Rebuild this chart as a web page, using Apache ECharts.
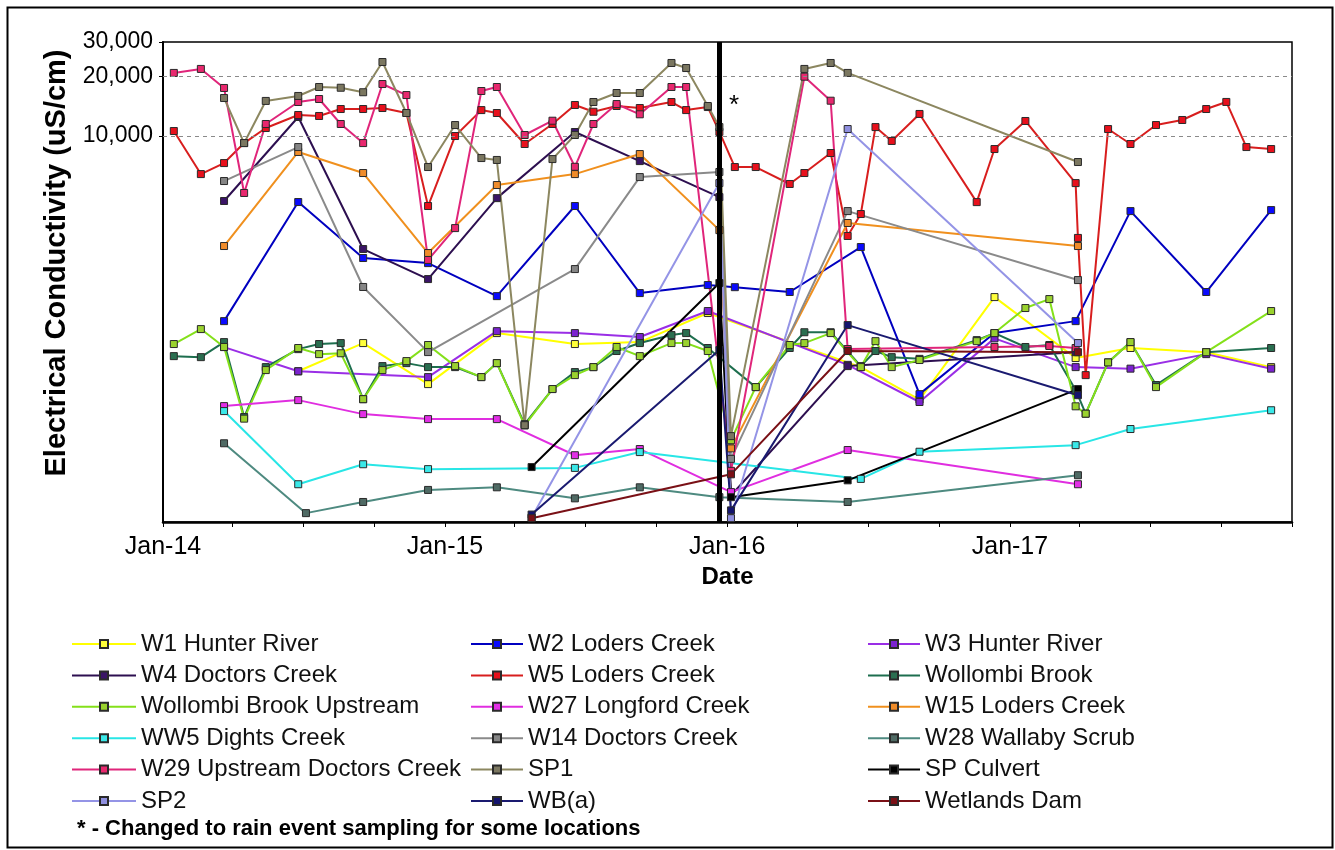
<!DOCTYPE html>
<html><head><meta charset="utf-8">
<script src="https://cdn.jsdelivr.net/npm/echarts@6/dist/echarts.min.js"></script>
<style>html,body{margin:0;padding:0;background:#fff}#c{width:1335px;height:850px}</style>
</head><body><div id="c"></div>
<script>
// ---------- DATA (date, EC uS/cm) ----------
const W1_HUNTER = [['2014-06-25',640],['2014-09-17',890],['2014-12-10',551],['2015-03-09',1000],['2015-06-18',880],['2015-09-10',900],['2015-12-07',1264],['2016-06-22',672],['2016-09-06',460],['2016-12-12',1523],['2017-03-27',747],['2017-06-06',840],['2017-09-12',800],['2017-12-05',672]];
const W2_LODERS = [['2014-03-21',1150],['2014-06-25',4624],['2014-09-17',2404],['2014-12-10',2265],['2015-03-09',1540],['2015-06-18',4414],['2015-09-10',1596],['2015-12-07',1753],['2016-01-11',1710],['2016-03-22',1616],['2016-06-22',2733],['2016-09-06',490],['2016-12-12',1000],['2017-03-27',1150],['2017-06-06',4160],['2017-09-12',1616],['2017-12-05',4210]];
const W3_HUNTER = [['2014-03-21',849],['2014-06-25',640],['2014-12-10',598],['2015-03-09',1023],['2015-06-18',1000],['2015-09-10',955],['2015-12-07',1294],['2016-06-05',690],['2016-09-06',447],['2016-12-12',940],['2017-03-27',672],['2017-06-06',660],['2017-09-12',782],['2017-12-05',660]];
const W4_DOCTORS = [['2014-03-21',4680],['2014-06-25',12490],['2014-09-17',2670],['2014-12-10',1880],['2015-03-09',4840],['2015-06-18',10480],['2015-09-10',7460],['2015-12-22',4900],['2016-01-06',150],['2016-06-05',680],['2017-03-27',800]];
const W5_LODERS = [['2014-01-15',10600],['2014-02-19',6410],['2014-03-21',7290],['2014-04-16',9210],['2014-05-14',10980],['2014-06-25',12785],['2014-07-22',12640],['2014-08-19',13710],['2014-09-17',13710],['2014-10-12',13870],['2014-11-12',13085],['2014-12-10',4414],['2015-01-14',10000],['2015-02-17',13540],['2015-03-09',13085],['2015-04-14',9110],['2015-05-20',11510],['2015-06-18',14370],['2015-07-12',13280],['2015-08-11',14200],['2015-09-10',13870],['2015-10-21',14880],['2015-11-09',13540],['2015-12-07',14030],['2015-12-22',10500],['2016-01-11',6960],['2016-02-07',6960],['2016-03-22',5710],['2016-04-10',6490],['2016-05-14',8200],['2016-06-05',3110],['2016-06-22',4020],['2016-07-11',11100],['2016-08-01',9440],['2016-09-06',12940],['2016-11-19',4620],['2016-12-12',8590],['2017-01-21',11920],['2017-03-27',5770],['2017-03-30',3040],['2017-04-09',612],['2017-05-08',10850],['2017-06-06',9110],['2017-07-09',11370],['2017-08-12',12060],['2017-09-12',13710],['2017-10-08',14890],['2017-11-03',8790],['2017-12-05',8590]];
const WOLLOMBI = [['2014-01-15',764],['2014-02-19',755],['2014-03-21',900],['2014-04-16',375],['2014-05-14',672],['2014-06-25',829],['2014-07-22',880],['2014-08-19',890],['2014-09-17',462],['2014-10-12',680],['2014-11-12',704],['2014-12-10',672],['2015-01-14',672],['2015-02-17',598],['2015-03-09',704],['2015-04-14',345],['2015-05-20',520],['2015-06-18',634],['2015-07-12',672],['2015-08-11',811],['2015-09-10',890],['2015-10-21',977],['2015-11-09',1000],['2015-12-07',840],['2016-02-07',532],['2016-03-22',840],['2016-04-10',1010],['2016-05-14',1010],['2016-06-22',680],['2016-07-11',811],['2016-08-01',755],['2016-09-06',740],['2016-11-19',921],['2016-12-12',1000],['2017-01-21',850],['2017-02-21',870],['2017-03-27',515],['2017-04-09',390],['2017-05-08',710],['2017-06-06',900],['2017-07-09',545],['2017-09-12',800],['2017-12-05',840]];
const WOLLOMBI_UP = [['2014-01-15',880],['2014-02-19',1048],['2014-03-21',850],['2014-04-16',368],['2014-05-14',649],['2014-06-25',840],['2014-07-22',782],['2014-08-19',790],['2014-09-17',462],['2014-10-12',649],['2014-11-12',721],['2014-12-10',870],['2015-01-14',680],['2015-02-17',598],['2015-03-09',704],['2015-04-14',340],['2015-05-20',520],['2015-06-18',612],['2015-07-12',672],['2015-08-11',850],['2015-09-10',764],['2015-10-21',890],['2015-11-09',890],['2015-12-07',811],['2016-01-06',286],['2016-02-07',532],['2016-03-22',870],['2016-04-10',890],['2016-05-14',1000],['2016-06-22',672],['2016-07-11',910],['2016-08-01',672],['2016-09-06',730],['2016-11-19',910],['2016-12-12',1000],['2017-01-21',1340],['2017-02-21',1488],['2017-03-27',425],['2017-04-09',390],['2017-05-08',710],['2017-06-06',900],['2017-07-09',532],['2017-09-12',800],['2017-12-05',1294]];
const W27_LONGFORD = [['2014-03-21',426],['2014-06-25',457],['2014-09-17',388],['2014-12-10',366],['2015-03-09',366],['2015-06-18',240],['2015-09-10',258],['2016-01-06',156],['2016-06-05',255],['2017-03-30',171]];
const W15_LODERS = [['2014-03-21',2766],['2014-06-25',8300],['2014-09-17',6490],['2014-12-10',2548],['2015-03-09',5640],['2015-06-18',6410],['2015-09-10',8100],['2015-12-22',3330],['2016-01-06',260],['2016-06-05',3620],['2017-03-30',2766]];
const WW5_DIGHTS = [['2014-03-21',402],['2014-06-25',171],['2014-09-17',216],['2014-12-10',204],['2015-06-18',207],['2015-09-10',249],['2016-06-22',182],['2016-09-06',250],['2017-03-27',270],['2017-06-06',326],['2017-12-05',406]];
const W14_DOCTORS = [['2014-03-21',5910],['2014-06-25',8790],['2014-09-17',1714],['2014-12-10',801],['2015-06-18',2113],['2015-09-10',6190],['2015-12-22',6570],['2016-01-06',230],['2016-06-05',4160],['2017-03-30',1858]];
const W28_WALLABY = [['2014-03-21',276],['2014-07-05',122],['2014-09-17',139],['2014-12-10',160],['2015-03-09',165],['2015-06-18',145],['2015-09-10',165],['2015-12-22',147],['2016-06-05',139],['2017-03-30',190]];
const W29_UPSTREAM = [['2014-01-15',20900],['2014-02-19',21900],['2014-03-21',17530],['2014-04-16',5140],['2014-05-14',11510],['2014-06-25',14880],['2014-07-22',15410],['2014-08-19',11510],['2014-09-17',9210],['2014-10-12',18360],['2014-11-12',16140],['2014-12-10',2350],['2015-01-14',3410],['2015-02-17',16920],['2015-03-09',17730],['2015-04-14',10120],['2015-05-20',11960],['2015-06-18',6980],['2015-07-12',11510],['2015-08-11',14530],['2015-09-10',12890],['2015-10-21',17730],['2015-11-09',17730],['2016-01-06',200],['2016-04-10',20000],['2016-05-14',15110],['2016-06-05',830],['2016-12-12',850],['2017-02-21',860],['2017-03-27',840]];
const SP1 = [['2014-03-21',15590],['2014-04-16',9210],['2014-05-14',15070],['2014-06-25',15970],['2014-07-22',17730],['2014-08-19',17580],['2014-09-17',16680],['2014-10-12',23740],['2014-11-12',13085],['2014-12-10',6960],['2015-01-14',11370],['2015-02-17',7730],['2015-03-09',7560],['2015-04-14',341],['2015-05-20',7640],['2015-06-18',10120],['2015-07-12',14880],['2015-08-11',16530],['2015-09-10',16530],['2015-10-21',23480],['2015-11-09',22130],['2015-12-07',14200],['2015-12-22',11100],['2016-01-06',300],['2016-04-10',21900],['2016-05-14',23480],['2016-06-05',20900],['2017-03-30',7380]];
const SP_CULVERT = [['2015-04-23',209],['2015-12-22',1794],['2016-01-06',147],['2016-06-05',179],['2017-03-30',520]];
const SP2 = [['2015-04-23',116],['2015-12-22',5770],['2016-01-06',115],['2016-06-05',10850],['2017-03-30',890]];
const WB_A = [['2015-04-23',120],['2015-12-22',820],['2016-01-06',126],['2016-06-05',1098],['2017-03-30',484]];
const WETLANDS_DAM = [['2015-04-23',115],['2016-01-06',192],['2016-06-05',811],['2017-03-30',800]];

// axis ticks / labels
const X_LABEL_DATES = ['2014-01-01','2015-01-01','2016-01-01','2017-01-01'];
const X_TICK_DATES = ['2014-01-01','2014-04-01','2014-07-01','2014-10-01','2015-01-01','2015-04-01','2015-07-01','2015-10-01','2016-01-01','2016-04-01','2016-07-01','2016-10-01','2017-01-01','2017-04-01','2017-07-01','2017-10-01','2018-01-01'];
const X_RANGE = ['2014-01-01', '2018-01-01'];
const Y_TICK_VALUES = [10000, 20000, 30000];
const REF_LINES = [10000, 20000];
const EVENT_DATE = '2015-12-22';

const ts = s => Date.parse(s + 'T00:00:00Z');

// ---------- STYLE ----------
const FONT = "'Liberation Sans', Arial, sans-serif";
const SERIES = [
  ['W1 Hunter River', W1_HUNTER, '#ffff00', '#ffff3a'],
  ['W2 Loders Creek', W2_LODERS, '#0000c0', '#0a0aff'],
  ['W3 Hunter River', W3_HUNTER, '#9a2ee6', '#7b22d0'],
  ['W4 Doctors Creek', W4_DOCTORS, '#2d0f50', '#3a1466'],
  ['W5 Loders Creek', W5_LODERS, '#d81e1e', '#e8101c'],
  ['Wollombi Brook', WOLLOMBI, '#1d6e4e', '#2a6e50'],
  ['Wollombi Brook Upstream', WOLLOMBI_UP, '#84e01a', '#9ad22e'],
  ['W27 Longford Creek', W27_LONGFORD, '#e02ee0', '#e22ee6'],
  ['W15 Loders Creek', W15_LODERS, '#f0901e', '#f08c2a'],
  ['WW5 Dights Creek', WW5_DIGHTS, '#28e6e6', '#3ae8e8'],
  ['W14 Doctors Creek', W14_DOCTORS, '#8a8a8a', '#858585'],
  ['W28 Wallaby Scrub', W28_WALLABY, '#4e8a80', '#4f6a64'],
  ['W29 Upstream Doctors Creek', W29_UPSTREAM, '#e0257a', '#e8286e'],
  ['SP1', SP1, '#8c8760', '#7b7760'],
  ['SP Culvert', SP_CULVERT, '#000000', '#000000'],
  ['SP2', SP2, '#9494e6', '#9090e0'],
  ['WB(a)', WB_A, '#1a1a70', '#14146e'],
  ['Wetlands Dam', WETLANDS_DAM, '#7a1016', '#7a1016']
];
const LEGEND_COLS = [
  ['W1 Hunter River','W4 Doctors Creek','Wollombi Brook Upstream','WW5 Dights Creek','W29 Upstream Doctors Creek','SP2'],
  ['W2 Loders Creek','W5 Loders Creek','W27 Longford Creek','W14 Doctors Creek','SP1','WB(a)'],
  ['W3 Hunter River','Wollombi Brook','W15 Loders Creek','W28 Wallaby Scrub','SP Culvert','Wetlands Dam']
];
const LEGEND_LEFT = [66, 465, 862];
const LEGEND_ICON_W = [64, 52, 52];

const series = SERIES.map(([name, data, line, fill]) => ({
  name, type: 'line', data: data.map(([d, v]) => [ts(d), v]), symbol: 'rect', symbolSize: 7, showAllSymbol: true,
  lineStyle: { color: line, width: 2 },
  itemStyle: { color: fill, borderColor: '#2a2a2a', borderWidth: 1 },
  color: fill, emphasis: { disabled: true }, animation: false
}));
series.push({
  type: 'line', data: [], silent: true, animation: false,
  markLine: {
    silent: true, symbol: 'none', animation: false, label: { show: false },
    data: REF_LINES.map(v => ({ yAxis: v, lineStyle: { color: '#8a8a8a', type: [4, 4], width: 1.2 } }))
      .concat([{ xAxis: ts(EVENT_DATE), lineStyle: { color: '#000', type: 'solid', width: 5 } }])
  }
});

const chart = echarts.init(document.getElementById('c'), null, { renderer: 'canvas' });
chart.setOption({
  backgroundColor: '#fff',
  animation: false,
  textStyle: { fontFamily: FONT },
  grid: { left: 163, right: 43, top: 42, bottom: 328, show: true, borderColor: '#000', borderWidth: 1.5, backgroundColor: 'transparent' },
  xAxis: {
    type: 'value', min: ts(X_RANGE[0]), max: ts(X_RANGE[1]),
    name: 'Date', nameLocation: 'middle', nameGap: 43,
    nameTextStyle: { fontSize: 24, fontWeight: 'bold', color: '#000', fontFamily: FONT },
    axisLine: { lineStyle: { color: '#000', width: 2.5 } },
    axisTick: { show: true, customValues: X_TICK_DATES.map(ts), length: 5, lineStyle: { color: '#000', width: 1 } },
    axisLabel: { customValues: X_LABEL_DATES.map(ts), margin: 13, fontSize: 25, color: '#000', fontFamily: FONT,
      formatter: v => 'Jan-' + String(new Date(v).getUTCFullYear()).slice(2) },
    splitLine: { show: false }
  },
  yAxis: {
    type: 'log', min: 110, max: 30000, logBase: 10,
    name: 'Electrical Conductivity (uS/cm)', nameLocation: 'middle', nameGap: 82, nameRotate: 90,
    nameTextStyle: { fontSize: 29, fontWeight: 'bold', color: '#000', fontFamily: FONT, padding: [0, 0, 0, 38] },
    axisLine: { show: true, lineStyle: { color: '#000', width: 2 } },
    axisTick: { show: true, customValues: Y_TICK_VALUES, length: 4, lineStyle: { color: '#000' } },
    axisLabel: { customValues: Y_TICK_VALUES, margin: 10, fontSize: 23, color: '#000', fontFamily: FONT,
      formatter: v => Math.round(v).toLocaleString('en-US') },
    splitLine: { show: false }, minorTick: { show: false }
  },
  legend: LEGEND_COLS.map((col, i) => ({
    data: col, orient: 'vertical', left: LEGEND_LEFT[i], top: 627,
    itemWidth: LEGEND_ICON_W[i], itemHeight: 10, itemGap: 7.4, selectedMode: false,
    textStyle: { fontSize: 24, lineHeight: 24, color: '#111', fontFamily: FONT }
  })),
  graphic: [
    { type: 'rect', left: 5, top: 5, shape: { width: 1325, height: 840 }, style: { fill: 'none', stroke: '#000', lineWidth: 2 }, silent: true },
    { type: 'text', left: 729, top: 93, style: { text: '*', font: '26px ' + FONT, fill: '#000' } },
    { type: 'text', left: 77, top: 818, style: { text: '* - Changed to rain event sampling for some locations', font: 'bold 22px ' + FONT, fill: '#000' } }
  ],
  series
});
</script>
</body></html>
